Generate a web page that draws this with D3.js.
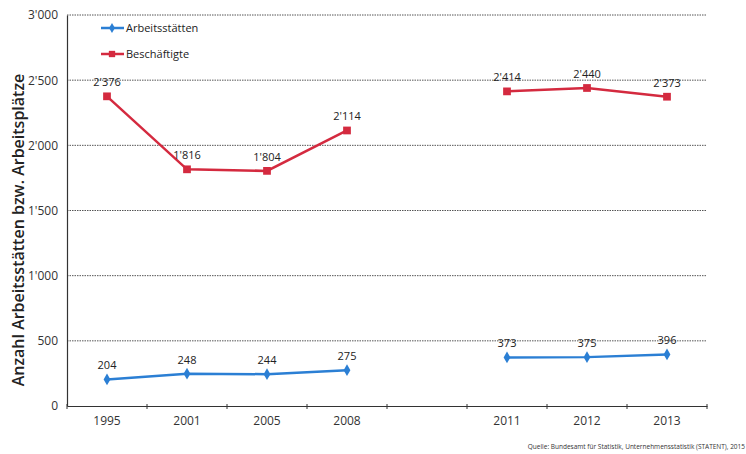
<!DOCTYPE html>
<html>
<head>
<meta charset="utf-8">
<script src="https://cdn.jsdelivr.net/npm/d3@7"></script>
<style>
  body { margin: 0; background: #fff; }
  text { font-family: "Open Sans", "Noto Sans", sans-serif; }
</style>
</head>
<body>
<div id="chart"></div>
<script>
// Data
const years = ["1995", "2001", "2005", "2008", "", "2011", "2012", "2013"];
const arbeitsstaetten = [204, 248, 244, 275, null, 373, 375, 396];
const beschaeftigte = [2376, 1816, 1804, 2114, null, 2414, 2440, 2373];
const yTicks = [0, 500, 1000, 1500, 2000, 2500, 3000];

const blue = "#2b7fd4", red = "#d42a3f";

const margin = { top: 15, right: 39, bottom: 48, left: 67 },
    width = 746 - margin.left - margin.right,
    height = 454 - margin.top - margin.bottom;

const fmt = d3.formatLocale({ decimal: ".", thousands: "'", grouping: [3], currency: ["", ""] }).format(",d");

const svg = d3.select("#chart")
    .append("svg")
    .attr("width", 746)
    .attr("height", 454);

const g = svg.append("g")
    .attr("transform", `translate(${margin.left},${margin.top})`);

// Scales
const x = d3.scaleBand()
    .domain(years.map((d, i) => i))
    .range([0, width]);

const y = d3.scaleLinear()
    .domain([0, 3000])
    .range([height, 0]);

// Gridlines
g.append("g")
    .selectAll("line")
    .data(yTicks.filter(d => d > 0))
    .join("line")
    .attr("x1", 0)
    .attr("x2", width)
    .attr("y1", d => y(d))
    .attr("y2", d => y(d))
    .attr("stroke", "#555")
    .attr("stroke-width", 1)
    .attr("stroke-dasharray", "1.5,1");

// Y axis
const yAxis = g.append("g")
    .call(d3.axisLeft(y).tickValues(yTicks).tickFormat(fmt).tickSize(0).tickPadding(9));
yAxis.select(".domain").attr("stroke", "#333").attr("stroke-width", 1.2);
yAxis.selectAll("text").style("font-size", "12px").attr("fill", "#333");

// X axis
const xAxis = g.append("g")
    .attr("transform", `translate(0,${height})`)
    .call(d3.axisBottom(x).tickFormat(i => years[i]).tickSize(0).tickPadding(10));
xAxis.select(".domain").attr("stroke", "#333").attr("stroke-width", 1.2);
xAxis.selectAll("text").style("font-size", "12px").attr("fill", "#333");

// Tick marks at category boundaries
g.append("g")
    .selectAll("line")
    .data(d3.range(years.length + 1))
    .join("line")
    .attr("x1", i => i * x.step())
    .attr("x2", i => i * x.step())
    .attr("y1", height - 2)
    .attr("y2", height + 3)
    .attr("stroke", "#333");

// Lines
const cx = i => x(i) + x.bandwidth() / 2;
const line = d3.line()
    .defined(d => d.v != null)
    .x(d => cx(d.i))
    .y(d => y(d.v));

function drawSeries(values, color, shape) {
    const pts = values.map((v, i) => ({ i, v }));
    g.append("path")
        .datum(pts)
        .attr("fill", "none")
        .attr("stroke", color)
        .attr("stroke-width", 2.5)
        .attr("d", line);

    const valid = pts.filter(d => d.v != null);
    g.append("g")
        .selectAll("path")
        .data(valid)
        .join("path")
        .attr("transform", d => `translate(${cx(d.i)},${y(d.v)})`)
        .attr("d", d3.symbol().type(shape).size(shape === d3.symbolSquare ? 60 : 40))
        .attr("fill", color);

    g.append("g")
        .selectAll("text")
        .data(valid)
        .join("text")
        .attr("x", d => cx(d.i))
        .attr("y", d => y(d.v) - 10)
        .attr("text-anchor", "middle")
        .style("font-size", "11px")
        .attr("fill", "#222")
        .text(d => fmt(d.v));
}

drawSeries(arbeitsstaetten, blue, d3.symbolDiamond);
drawSeries(beschaeftigte, red, d3.symbolSquare);

// Legend
const legend = [
    { name: "Arbeitsstätten", color: blue, shape: d3.symbolDiamond, y: 28 },
    { name: "Beschäftigte", color: red, shape: d3.symbolSquare, y: 54 }
];
legend.forEach(l => {
    svg.append("line").attr("x1", 101).attr("x2", 124).attr("y1", l.y).attr("y2", l.y)
        .attr("stroke", l.color).attr("stroke-width", 2.5);
    svg.append("path").attr("transform", `translate(112,${l.y})`)
        .attr("d", d3.symbol().type(l.shape).size(l.shape === d3.symbolSquare ? 40 : 30))
        .attr("fill", l.color);
    svg.append("text").attr("x", 126).attr("y", l.y + 4)
        .style("font-size", "11px").attr("fill", "#222").text(l.name);
});

// Y axis title
svg.append("text")
    .attr("transform", "translate(24,230) rotate(-90)")
    .attr("text-anchor", "middle")
    .style("font-size", "16px")
    .style("font-weight", "600")
    .attr("fill", "#222")
    .text("Anzahl Arbeitsstätten bzw. Arbeitsplätze");

// Source
svg.append("text")
    .attr("x", 745)
    .attr("y", 449)
    .attr("text-anchor", "end")
    .style("font-size", "6.5px")
    .attr("fill", "#333")
    .text("Quelle: Bundesamt für Statistik, Unternehmensstatistik (STATENT), 2015");
</script>
</body>
</html>
